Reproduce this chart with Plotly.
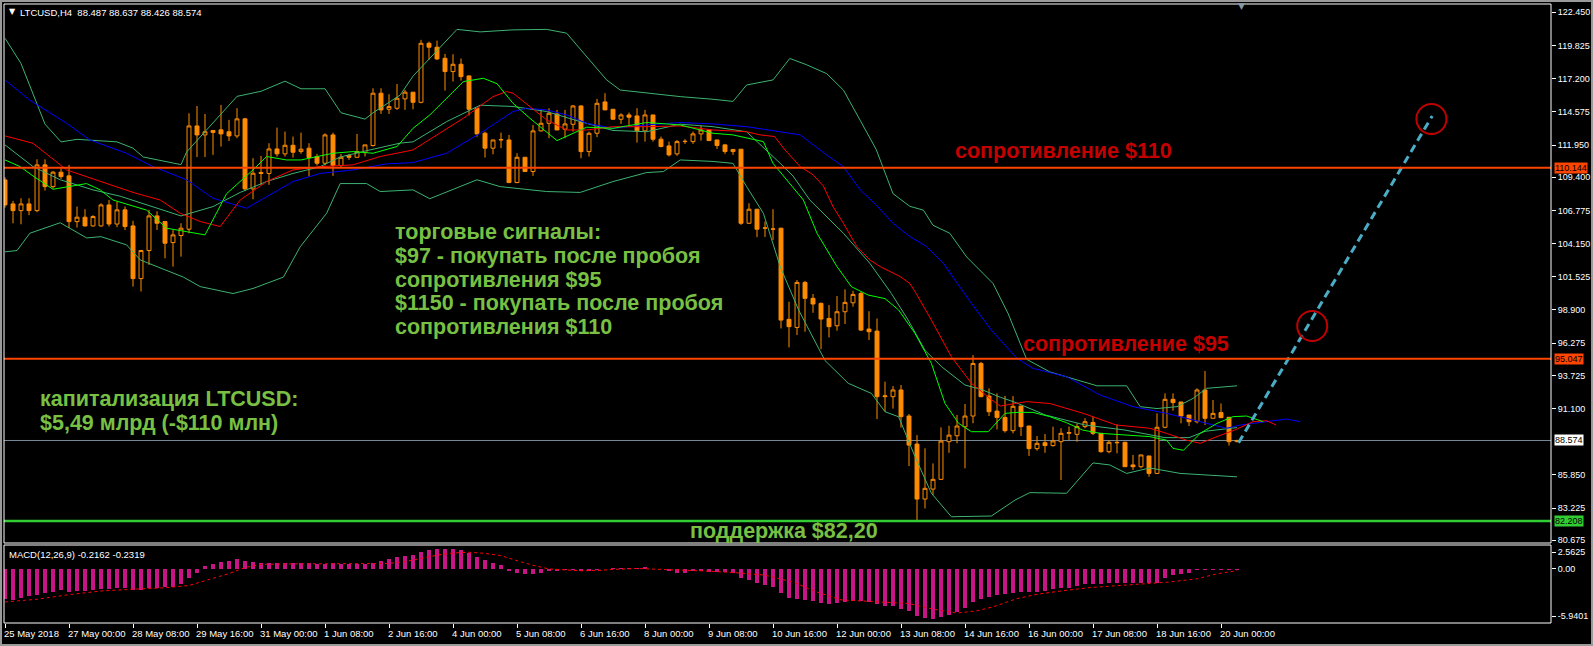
import plotly.graph_objects as go

# ---------------------------------------------------------------- data
tick_bars = [0, 8, 16, 24, 32, 40, 48, 56, 64, 72, 80, 88, 96, 104, 112, 120, 128, 136, 144, 152]
tick_labels = ["25 May 2018", "27 May 00:00", "28 May 08:00", "29 May 16:00", "31 May 00:00",
               "1 Jun 08:00", "2 Jun 16:00", "4 Jun 00:00", "5 Jun 08:00", "6 Jun 16:00",
               "8 Jun 00:00", "9 Jun 08:00", "10 Jun 16:00", "12 Jun 00:00", "13 Jun 08:00",
               "14 Jun 16:00", "16 Jun 00:00", "17 Jun 08:00", "18 Jun 16:00", "20 Jun 00:00"]

open_ = [
    109.19, 107.29, 106.76, 107.29, 106.76, 110.38, 108.66, 109.80, 109.51, 105.89,
    106.24, 105.55, 105.55, 107.21, 105.70, 106.82, 105.55, 101.38, 103.60, 106.34,
    105.89, 104.23, 104.79, 105.29, 113.46, 112.75, 113.10, 113.15, 113.00, 112.67,
    114.02, 108.48, 109.78, 109.70, 111.64, 111.25, 111.93, 111.43, 111.70, 111.04,
    110.51, 112.75, 110.33, 111.11, 110.98, 111.35, 111.91, 116.05, 114.78, 114.86,
    115.60, 116.13, 115.33, 120.00, 119.69, 118.81, 117.76, 118.34, 117.42, 114.86,
    112.88, 111.70, 112.35, 112.35, 108.98, 110.98, 109.85, 113.07, 113.67, 114.41,
    113.20, 113.59, 115.04, 111.43, 112.88, 115.36, 114.78, 113.99, 114.33, 114.25,
    113.07, 114.33, 112.41, 111.88, 111.25, 112.22, 112.22, 112.83, 113.14, 112.35,
    111.96, 111.43, 111.62, 105.76, 106.87, 105.37, 105.29, 105.37, 98.16, 97.52,
    101.08, 99.82, 99.42, 98.23, 97.65, 98.76, 99.47, 100.21, 97.39, 97.23,
    92.04, 92.04, 92.57, 90.51, 88.29, 83.94, 84.73, 85.50, 88.48, 88.95,
    89.66, 90.51, 94.67, 92.09, 90.90, 90.40, 89.35, 91.30, 89.72, 87.93,
    88.40, 88.17, 88.48, 89.14, 89.06, 89.67, 90.00, 89.14, 87.69, 88.43,
    88.43, 86.64, 86.50, 87.35, 85.97, 89.62, 91.83, 91.62, 90.59, 90.06,
    92.57, 90.33, 90.78, 90.41, 88.487]
high_ = [
    109.40, 107.53, 107.74, 107.74, 110.82, 110.82, 109.90, 110.10, 110.38, 107.08,
    106.87, 106.40, 107.34, 107.61, 107.47, 107.08, 105.95, 103.65, 106.82, 106.70,
    105.90, 105.23, 105.76, 114.46, 115.04, 114.41, 113.10, 115.12, 113.94, 114.86,
    114.10, 110.91, 111.09, 112.09, 113.33, 113.01, 112.62, 112.93, 112.09, 111.25,
    112.88, 112.93, 111.25, 111.25, 112.83, 111.96, 116.44, 116.44, 115.97, 116.78,
    116.31, 116.13, 120.27, 120.13, 120.21, 119.16, 119.13, 118.79, 117.42, 114.86,
    113.01, 112.35, 112.93, 112.75, 111.30, 110.98, 113.54, 114.73, 114.86, 114.73,
    114.73, 115.12, 115.10, 113.01, 115.60, 116.05, 114.80, 114.46, 114.52, 114.86,
    114.73, 114.33, 112.62, 112.22, 112.35, 112.41, 113.01, 113.46, 113.20, 112.35,
    112.04, 111.62, 111.62, 107.34, 106.87, 105.90, 106.87, 105.40, 99.55, 101.27,
    101.20, 100.16, 99.50, 99.29, 100.00, 100.53, 100.42, 100.34, 98.80, 98.23,
    93.23, 92.88, 92.96, 90.67, 89.00, 87.95, 86.76, 89.61, 89.74, 90.60,
    91.46, 95.33, 94.80, 92.70, 92.30, 92.10, 92.09, 91.30, 89.72, 88.93,
    89.09, 89.67, 89.54, 89.67, 89.93, 90.33, 90.46, 89.14, 88.61, 89.85,
    88.48, 87.43, 87.43, 87.35, 90.72, 92.30, 92.30, 91.62, 90.59, 92.70,
    94.07, 91.78, 91.50, 90.41, 88.637]
low_ = [
    107.00, 105.76, 105.68, 106.40, 106.63, 108.35, 108.50, 109.27, 105.37, 105.42,
    105.50, 105.50, 105.50, 105.50, 105.45, 105.23, 100.75, 100.36, 102.46, 105.23,
    102.99, 102.33, 103.12, 104.97, 111.00, 111.00, 111.17, 111.83, 112.27, 112.49,
    108.30, 107.66, 108.80, 108.80, 111.04, 111.04, 110.96, 111.25, 109.45, 110.33,
    110.33, 109.51, 110.17, 110.77, 110.98, 111.04, 111.83, 114.41, 114.41, 114.73,
    114.73, 114.78, 115.25, 118.68, 118.68, 116.26, 116.97, 117.05, 114.28, 112.60,
    110.96, 111.22, 111.70, 108.93, 108.93, 109.85, 109.51, 113.01, 112.49, 113.14,
    112.49, 113.01, 110.90, 111.04, 112.57, 114.73, 113.95, 113.62, 113.54, 112.14,
    112.22, 112.22, 111.77, 111.04, 111.09, 112.04, 112.04, 112.30, 112.30, 111.64,
    111.25, 111.17, 105.63, 105.70, 104.66, 104.68, 104.44, 97.44, 95.94, 96.92,
    97.18, 98.68, 95.80, 96.73, 97.26, 97.79, 99.16, 97.23, 96.52, 90.27,
    90.85, 91.10, 89.60, 86.55, 82.28, 83.20, 84.26, 85.45, 87.60, 88.35,
    86.37, 89.93, 92.00, 90.51, 89.45, 89.20, 89.14, 88.93, 87.35, 87.77,
    87.60, 88.09, 85.45, 88.60, 88.48, 89.54, 89.00, 87.61, 87.56, 87.56,
    86.50, 86.24, 86.37, 85.71, 85.92, 89.54, 90.93, 89.93, 89.72, 89.93,
    89.80, 90.33, 90.38, 88.17, 88.426]
close_ = [
    107.21, 106.76, 107.29, 106.76, 110.38, 108.66, 109.80, 109.45, 105.89, 106.24,
    105.55, 106.29, 107.21, 105.70, 106.82, 105.50, 101.38, 103.60, 106.34, 105.76,
    104.18, 104.84, 105.37, 113.46, 112.75, 113.00, 112.95, 112.83, 112.67, 114.02,
    108.48, 109.72, 109.70, 111.64, 111.25, 111.93, 111.38, 111.62, 110.96, 110.51,
    112.75, 110.33, 110.98, 110.98, 111.43, 111.96, 116.05, 114.73, 114.99, 115.65,
    116.13, 115.33, 120.00, 119.69, 118.76, 117.76, 118.34, 117.36, 114.78, 112.83,
    111.70, 112.35, 112.38, 108.98, 110.98, 109.85, 113.07, 113.67, 114.46, 113.14,
    113.62, 115.04, 111.43, 112.88, 115.25, 114.73, 113.99, 114.33, 114.15, 113.07,
    114.33, 112.41, 111.83, 111.17, 112.22, 112.24, 112.83, 113.14, 112.30, 111.91,
    111.43, 111.60, 105.76, 106.87, 105.29, 105.39, 105.31, 98.10, 97.58, 101.08,
    99.82, 99.37, 98.18, 97.58, 98.76, 99.50, 100.13, 97.31, 97.18, 92.04,
    92.10, 92.57, 90.46, 88.21, 83.94, 84.79, 85.50, 88.53, 89.00, 89.72,
    90.51, 94.67, 92.04, 90.85, 90.40, 89.35, 91.28, 89.67, 87.93, 88.35,
    88.17, 88.54, 89.14, 89.20, 89.67, 90.06, 89.14, 87.69, 88.43, 88.40,
    86.50, 86.50, 87.43, 85.97, 89.62, 91.83, 91.57, 90.51, 90.06, 92.57,
    90.33, 90.72, 90.38, 88.48, 88.574]
bars = list(range(len(open_)))

# Bollinger bands
bb_up_x = [0, 2, 5, 7, 9, 14, 16, 17.3, 22, 22.7, 29, 32, 35, 37, 40, 42, 45, 46, 49.4, 51,
           56.5, 59.4, 63.5, 67.7, 70.2, 72.7, 75.2, 76.9, 80.2, 84.4, 88.5, 91, 92.7, 96, 98.1, 100.2,
           102.7, 104.8, 106.9, 108.9, 111, 113.1, 114.8, 116, 118.1, 120.2, 123.5, 125.4, 127.7, 130.6,
           136.5, 140.2, 141.9, 144, 146.5, 148.5, 150.2, 154]
bb_up_y = [120.4, 118.4, 113.6, 112.2, 112.4, 112.2, 111.7, 111.0, 110.4, 111.4, 115.8, 116.2, 117.0,
           116.4, 116.4, 114.5, 114.0, 114.5, 115.9, 117.4, 121.1, 120.9, 121.06, 121.1, 120.8, 118.95,
           117.1, 116.3, 116.05, 115.78, 115.57, 115.4, 116.7, 117.1, 118.8, 118.3, 117.6, 116.3, 113.9,
           111.6, 108.1, 107.1, 106.8, 105.6, 104.97, 103.1, 101.0, 98.6, 95.0, 94.0, 92.9, 92.9, 91.25,
           91.1, 91.25, 91.9, 92.7, 92.9]
bb_mid_x = [0, 3.5, 6.9, 11, 14.4, 17.7, 22, 26, 29.4, 32.7, 36, 39.4, 41.9, 45.2, 49.4, 51, 55.2, 59.4,
            63.5, 67.7, 71.9, 76, 80.2, 84.4, 88.5, 92.7, 94.4, 96.9, 98.5, 100.6, 104.8, 108.1, 110.8,
            112.9, 115, 117.1, 120, 122.1, 124.4, 126.25, 130, 135, 140, 145, 148, 150, 154]
bb_mid_y = [111.96, 110.24, 109.2, 108.4, 107.9, 107.2, 106.34, 107.08, 108.2, 109.06, 109.7, 110.24,
            111.0, 111.5, 112.1, 112.2, 113.8, 115.1, 115.0, 114.6, 113.8, 113.1, 113.0, 113.6, 113.4,
            113.0, 112.0, 110.5, 109.5, 107.6, 104.97, 102.6, 100.2, 98.1, 95.7, 94.4, 92.96, 92.6, 92.0,
            91.6, 90.6, 89.8, 89.4, 88.8, 88.8, 89.3, 89.6]
bb_lo_x = [0, 1.5, 3.1, 6.9, 10.2, 12, 15.2, 16.9, 22.3, 24.4, 28.5, 31, 34.8, 36.9, 40.2, 41.9, 45.2,
           46.9, 51, 53.1, 59, 61.9, 67.7, 71.9, 76, 80.2, 82.3, 84.4, 88.5, 91, 92.7, 94.8, 96.9, 99.2,
           102.5, 105.4, 108.3, 110, 111.7, 113.75, 115.8, 118.3, 123.3, 126.25, 128.1, 132.7, 136,
           138.1, 140.2, 143.1, 146.9, 149.8, 154]
bb_lo_y = [103.5, 103.6, 104.97, 105.8, 104.6, 104.7, 104.05, 102.86, 101.5, 100.75, 100.2, 100.6,
           101.5, 103.9, 106.55, 108.9, 108.9, 108.27, 108.4, 107.7, 109.2, 108.66, 108.27, 108.2,
           109.06, 109.77, 109.85, 110.77, 110.65, 110.5, 108.66, 106.55, 102.33, 98.9, 94.9, 93.1,
           92.3, 90.85, 90.45, 87.3, 84.4, 82.54, 82.6, 83.86, 84.45, 84.4, 86.8, 86.64, 85.97, 86.4,
           85.97, 85.85, 85.7]

# Alligator lines
lips_x = [0, 1.9, 3.5, 6, 10.2, 11.9, 13.5, 17.7, 20.2, 23.5, 25, 27.7, 31, 32.7, 35.2, 37, 41, 43.5,
          46, 49, 51, 53.1, 57.3, 59.8, 61.5, 63.5, 65.6, 69, 71, 72.7, 76, 80.2, 84.4, 88.5, 91, 94.8,
          96, 97.7, 99.8, 101.5, 104, 105.8, 107.9, 110, 111.7, 113.75, 115.8, 117.5, 119.2, 120.8,
          122.9, 125, 126.5, 128.5, 130.6, 132.7, 134.7, 136.9, 141, 143.1, 145.2, 146, 147.3, 149.4,
          151.5, 153.5, 155.2, 157.3]
lips_y = [110.77, 110.24, 109.5, 108.45, 108.9, 108.4, 107.6, 106.8, 105.37, 104.97, 104.84, 108.1,
          109.98, 111.04, 110.77, 110.77, 111.3, 111.43, 111.3, 111.83, 113.27, 114.33, 116.97, 117.23,
          116.8, 115.25, 114.07, 112.3, 112.88, 113.36, 113.27, 113.73, 113.54, 112.88, 112.75, 112.22,
          110.5, 109.2, 107.6, 104.97, 102.33, 100.74, 100.08, 99.8, 98.9, 97.05, 94.67, 91.5, 89.93,
          89.27, 89.27, 90.72, 90.8, 90.8, 90.46, 89.98, 89.4, 89.14, 89.0, 88.88, 88.6, 87.95, 87.8,
          89.14, 89.93, 90.46, 90.51, 90.06]
teeth_x = [0, 3.5, 7.7, 11.9, 16, 19.4, 21.9, 24.4, 26.9, 29.4, 32.7, 36, 39.4, 43.5, 46.9, 51, 54.4,
           57.3, 61, 62.7, 63.5, 65.6, 67.7, 70.2, 72.7, 76, 80.2, 84.4, 88.5, 92.7, 94.4, 96.2, 97.5,
           99.4, 101, 102.3, 103.5, 104.8, 106.5, 108.1, 109.4, 111.9, 113.1, 113.9, 115.8, 118.3, 120.8,
           123.3, 124.4, 127.7, 130.6, 134.8, 138.9, 143.1, 145.2, 147.7, 149.4, 151.5, 153.5, 156,
           157.7, 158.9]
teeth_y = [112.67, 112.09, 109.98, 109.06, 108.2, 107.6, 106.55, 105.9, 105.5, 107.6, 109.06, 109.98,
           110.24, 110.38, 111.04, 111.56, 112.88, 114.07, 115.78, 116.18, 116.05, 114.99, 113.94,
           113.14, 113.14, 113.4, 113.4, 113.46, 113.14, 113.0, 112.75, 112.62, 111.56, 110.24, 109.6,
           108.7, 107.08, 105.76, 103.9, 102.86, 102.33, 101.54, 101.0, 100.2, 98.1, 95.2, 93.1, 91.8,
           91.3, 91.65, 91.5, 90.72, 89.8, 89.54, 89.14, 88.6, 88.35, 88.88, 89.35, 90.06, 90.14, 89.8]
jaw_x = [0, 3.1, 7.7, 10.6, 15.2, 18.5, 22.7, 26, 30.2, 32.7, 36, 39.4, 43.5, 47.7, 51, 55.2, 59.4,
         63.5, 65.2, 67.7, 70.2, 72.7, 76, 80.2, 84.4, 88.5, 92.7, 96.9, 99.4, 102.7, 104.8, 106.9,
         108.9, 111, 113.1, 115.2, 117.3, 118.75, 120.8, 123.3, 126.5, 128.5, 132.7, 136.9, 141, 145.2,
         149.4, 152.7, 154.4, 157.7, 160.2, 161.9]
jaw_y = [117.1, 115.5, 113.67, 112.35, 111.3, 110.24, 109.2, 107.74, 106.95, 107.87, 109.06, 109.7,
         109.98, 110.46, 110.56, 111.3, 112.88, 114.6, 114.86, 114.73, 114.33, 113.67, 113.27, 113.54,
         113.73, 113.62, 113.4, 113.0, 112.75, 111.17, 110.24, 108.4, 107.21, 105.76, 104.71, 103.92,
         102.6, 101.27, 99.42, 97.3, 95.07, 94.28, 93.62, 92.17, 91.25, 90.72, 90.06, 89.54, 89.8,
         90.06, 90.27, 90.06]

# MACD(12,26,9)
macd_hist = [
    -3.36, -3.43, -3.24, -2.99, -2.92, -2.63, -2.55, -2.37, -2.55, -2.48,
    -2.48, -2.37, -2.26, -2.26, -2.12, -2.12, -2.33, -2.33, -2.12, -2.12,
    -1.97, -1.97, -1.71, -0.98, -0.44, 0.22, 0.47, 0.73, 0.84, 1.02,
    0.84, 0.70, 0.62, 0.60, 0.58, 0.60, 0.60, 0.58, 0.55, 0.52,
    0.50, 0.55, 0.50, 0.45, 0.45, 0.50, 0.62, 0.84, 1.09, 1.28,
    1.39, 1.46, 1.75, 2.00, 2.10, 2.10, 2.10, 2.04, 1.68, 1.28,
    0.91, 0.55, 0.36, -0.26, -0.44, -0.62, -0.62, -0.44, -0.26, -0.26,
    -0.15, -0.15, -0.26, -0.26, -0.15, -0.02, 0.10, 0.10, 0.10, 0.07,
    0.15, 0.00, -0.07, -0.26, -0.44, -0.44, -0.26, -0.26, -0.36, -0.36,
    -0.36, -0.44, -1.08, -1.26, -1.59, -1.80, -2.02, -2.63, -3.21, -3.35,
    -3.42, -3.53, -3.71, -3.89, -3.71, -3.64, -3.53, -3.53, -3.60, -3.89,
    -4.07, -4.14, -4.36, -4.61, -5.15, -5.37, -5.51, -5.26, -5.08, -4.72,
    -4.32, -3.64, -3.35, -3.10, -2.92, -2.81, -2.63, -2.52, -2.52, -2.52,
    -2.45, -2.27, -2.16, -2.09, -1.91, -1.73, -1.73, -1.73, -1.62, -1.62,
    -1.62, -1.62, -1.62, -1.62, -1.55, -1.01, -0.72, -0.58, -0.47, -0.18,
    -0.18, -0.18, -0.11, -0.18, -0.2162]
signal_x = [0, 4, 8, 12, 16, 20, 23, 25, 28, 30, 32, 36, 40, 44, 48, 50, 52, 54, 56, 58, 60, 62, 64,
            66, 68, 70, 72, 74, 76, 79, 83, 88, 91.5, 95, 98.5, 101.5, 104.5, 108.5, 113, 116, 119,
            121.5, 123.5, 126.5, 129, 132, 135.5, 139.5, 142.5, 145.5, 149, 151.5, 154]
signal_y = [-3.65, -3.35, -2.85, -2.45, -2.26, -2.10, -1.85, -1.30, -0.55, 0.10, 0.45, 0.50, 0.50,
            0.50, 0.55, 0.75, 1.10, 1.45, 1.69, 1.77, 1.65, 1.40, 0.85, 0.35, -0.05, -0.18, -0.25,
            -0.22, -0.10, 0.00, -0.11, -0.29, -0.47, -0.72, -1.48, -2.56, -3.42, -3.64, -3.82, -4.43,
            -4.86, -4.61, -4.18, -3.28, -2.81, -2.45, -2.09, -1.84, -1.66, -1.48, -1.12, -0.58, -0.2319]

# levels, price axis labels, drawn objects
resistance_levels = [110.144, 95.047]
support_level = 82.208
bid_price = 88.574
price_ticks = [122.450, 119.825, 117.200, 114.575, 111.950, 109.400, 106.775, 104.150, 101.525,
               98.900, 96.275, 93.725, 91.100, 85.850, 83.225, 80.675]
macd_ticks_text = ["2.5625", "0.00", "-5.9401"]
macd_max, macd_min = 2.5625, -5.9401
forecast_x = [154.2, 178.4]
forecast_y = [88.40, 114.25]
circle_x = [163.4, 178.3]
circle_y = [97.63, 114.01]
header_text = "LTCUSD,H4  88.487 88.637 88.426 88.574"
macd_text = "MACD(12,26,9) -0.2162 -0.2319"
signal_lines = ["торговые сигналы:", "$97 - покупать после пробоя", "сопротивления $95",
                "$1150 - покупать после пробоя", "сопротивления $110"]
cap_lines = ["капитализация LTCUSD:", "$5,49 млрд (-$110 млн)"]

# ---------------------------------------------------------------- geometry
W, H = 1593, 646
ML, MR, MT, MB = 4, 42, 4, 23
PW, PH = W - ML - MR, H - MT - MB
BAR_PX, BAR0_PX = 8.0, 5.0
PRICE_PX = 12.64


def bar_of(X):
    return (X - BAR0_PX) / BAR_PX


def price_of(Y):
    return 122.45 - (Y - 12.3) / PRICE_PX


def fx(X):
    return (X - ML) / PW


def fy(Y):
    return (H - MB - Y) / PH


x_range = [bar_of(ML), bar_of(W - MR)]
main_dom = [fy(543), 1.0]
macd_dom = [0.0, fy(545)]
macd_px = (623 - 545) / (macd_max - macd_min)
macd_tickvals = [macd_max - 7.3 / macd_px, 0.0, macd_min + 6.7 / macd_px]

ORANGE = "#FF8C00"
BBC = "#3CB371"
FAM = "Liberation Sans, Arial, sans-serif"
AXF = dict(family=FAM, size=9, color="white")
XLF = dict(family=FAM, size=9.5, color="white")
GREEN_TXT = "#78C043"
RED_TXT = "#C40000"

fig = go.Figure()
fig.add_trace(go.Candlestick(
    x=bars, open=open_, high=high_, low=low_, close=close_,
    increasing=dict(line=dict(color=ORANGE, width=1), fillcolor="black"),
    decreasing=dict(line=dict(color=ORANGE, width=1), fillcolor=ORANGE),
    xaxis="x", yaxis="y", hoverinfo="skip", showlegend=False))

for xs, ys, col in [(bb_up_x, bb_up_y, BBC), (bb_mid_x, bb_mid_y, BBC), (bb_lo_x, bb_lo_y, BBC),
                    (jaw_x, jaw_y, "#0000FF"), (teeth_x, teeth_y, "#FF0000"), (lips_x, lips_y, "#00FF00")]:
    fig.add_trace(go.Scatter(x=xs, y=ys, mode="lines", line=dict(color=col, width=1),
                             xaxis="x", yaxis="y", hoverinfo="skip", showlegend=False))

fig.add_trace(go.Scatter(x=forecast_x, y=forecast_y, mode="lines",
                         line=dict(color="#4BACC6", width=3, dash="8px,5px"),
                         xaxis="x", yaxis="y", hoverinfo="skip", showlegend=False))

fig.add_trace(go.Bar(x=bars, y=macd_hist, width=0.42, marker=dict(color="#C71585", line=dict(width=0)),
                     xaxis="x2", yaxis="y2", hoverinfo="skip", showlegend=False))
fig.add_trace(go.Scatter(x=signal_x, y=signal_y, mode="lines", line=dict(color="#FF0000", width=1, dash="dot"),
                         xaxis="x2", yaxis="y2", hoverinfo="skip", showlegend=False))

shapes = []
for lv in resistance_levels:
    shapes.append(dict(type="line", xref="paper", x0=0, x1=1, yref="y", y0=lv, y1=lv,
                       line=dict(color="#FF4500", width=2), layer="above"))
shapes.append(dict(type="line", xref="paper", x0=0, x1=1, yref="y", y0=support_level, y1=support_level,
                   line=dict(color="#32CD32", width=2.5), layer="above"))
shapes.append(dict(type="line", xref="paper", x0=0, x1=1, yref="y", y0=bid_price, y1=bid_price,
                   line=dict(color="#778899", width=1), layer="below"))
r_px = 15.0
for cx, cy in zip(circle_x, circle_y):
    shapes.append(dict(type="circle", xref="x", yref="y",
                       x0=cx - r_px / BAR_PX, x1=cx + r_px / BAR_PX,
                       y0=cy - r_px / PRICE_PX, y1=cy + r_px / PRICE_PX,
                       line=dict(color="#C00000", width=2), layer="above"))
# panel frames
shapes.append(dict(type="rect", xref="paper", yref="paper", x0=0, x1=1, y0=main_dom[0], y1=1,
                   line=dict(color="white", width=1), layer="above"))
shapes.append(dict(type="rect", xref="paper", yref="paper", x0=0, x1=1, y0=0, y1=macd_dom[1],
                   line=dict(color="white", width=1), layer="above"))
shapes.append(dict(type="rect", xref="paper", yref="paper", x0=fx(1), x1=fx(W - 1), y0=fy(H - 1), y1=fy(1),
                   line=dict(color="#9A9A9A", width=2), layer="above"))

ann = []
for b, t in zip(tick_bars, tick_labels):
    ann.append(dict(x=b, xref="x2", y=fy(633), yref="paper", text=t, showarrow=False,
                    xanchor="left", yanchor="middle", xshift=-3, font=XLF))
ann.append(dict(x=fx(7), xref="paper", y=fy(12), yref="paper", text="▼", showarrow=False,
                xanchor="left", yanchor="middle", font=dict(family="DejaVu Sans", size=8, color="white")))
ann.append(dict(x=fx(18), xref="paper", y=fy(12.5), yref="paper", text=header_text, showarrow=False,
                xanchor="left", yanchor="middle", font=XLF))
ann.append(dict(x=fx(7), xref="paper", y=fy(554.5), yref="paper", text=macd_text, showarrow=False,
                xanchor="left", yanchor="middle", font=XLF))
ann.append(dict(x=fx(1241), xref="paper", y=fy(6), yref="paper", text="▼", showarrow=False,
                xanchor="center", yanchor="middle", font=dict(family="DejaVu Sans", size=9, color="#8899AA")))

# level boxes on the price scale
for val, bg in [(resistance_levels[0], "#FF4500"), (resistance_levels[1], "#FF4500"),
                (bid_price, "white"), (support_level, "#32CD32")]:
    ann.append(dict(x=1, xref="paper", y=val, yref="y", text=f"{val:.3f}", showarrow=False,
                    xanchor="left", yanchor="middle", xshift=3, bgcolor=bg, borderpad=0,
                    font=dict(family=FAM, size=9, color="black")))


def big_text(X, Y, text, color):
    return dict(x=fx(X), xref="paper", y=fy(Y), yref="paper", text="<b>" + text + "</b>",
                showarrow=False, xanchor="left", yanchor="middle",
                font=dict(family=FAM, size=21.5, color=color))


ann.append(big_text(953, 151, "сопротивление $110", RED_TXT))
ann.append(big_text(1021, 344, "сопротивление $95", RED_TXT))
ann.append(big_text(688, 531, "поддержка $82,20", GREEN_TXT))
for line, Y in zip(signal_lines, [232, 256, 279.5, 303, 327]):
    ann.append(big_text(393, Y, line, GREEN_TXT))
for line, Y in zip(cap_lines, [399.5, 422.5]):
    ann.append(big_text(38, Y, line, GREEN_TXT))

fig.update_layout(
    width=W, height=H, margin=dict(l=ML, r=MR, t=MT, b=MB, pad=0),
    paper_bgcolor="black", plot_bgcolor="black", showlegend=False, hovermode=False,
    bargap=0, shapes=shapes, annotations=ann,
    xaxis=dict(domain=[0, 1], range=x_range, anchor="y", showgrid=False, zeroline=False,
               showticklabels=False, ticks="", showline=False, rangeslider=dict(visible=False)),
    yaxis=dict(domain=main_dom, range=[price_of(543), price_of(MT)], side="right", anchor="x",
               showgrid=False, zeroline=False, showline=False, tickvals=price_ticks,
               ticktext=[f"{v:.3f}" for v in price_ticks], ticks="outside", ticklen=4,
               tickcolor="white", tickfont=AXF),
    xaxis2=dict(domain=[0, 1], range=x_range, anchor="y2", showgrid=False, zeroline=False,
                showticklabels=False, ticks="outside", ticklen=4, tickcolor="white",
                tickvals=tick_bars, showline=False),
    yaxis2=dict(domain=macd_dom, range=[macd_min, macd_max], side="right", anchor="x2",
                showgrid=False, zeroline=False, showline=False, tickvals=macd_tickvals,
                ticktext=macd_ticks_text, ticks="outside", ticklen=4, tickcolor="white", tickfont=AXF),
)

fig.write_html("out.html", config={"displayModeBar": False, "staticPlot": True},
               post_script="document.body.style.margin='0';document.body.style.padding='0';"
                           "document.body.style.background='black';")
